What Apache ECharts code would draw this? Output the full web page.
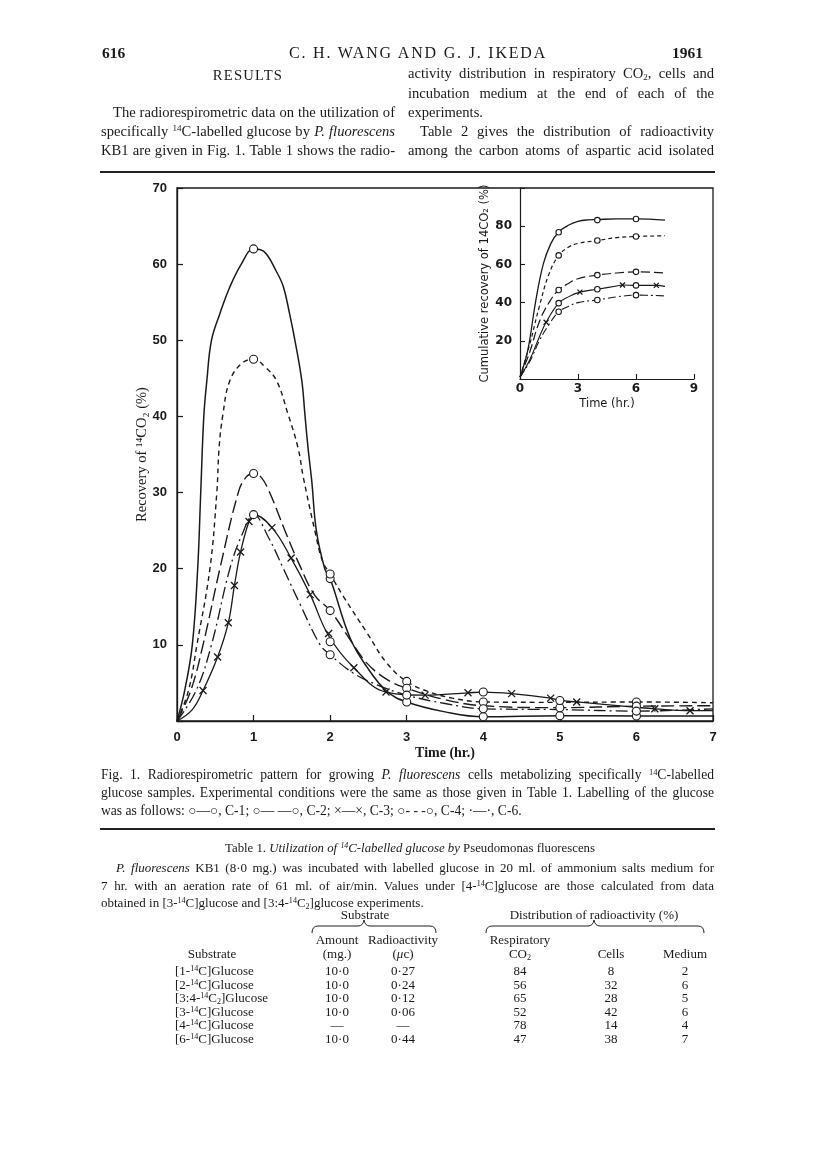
<!DOCTYPE html>
<html>
<head>
<meta charset="utf-8">
<script src="https://cdn.jsdelivr.net/npm/echarts@6/dist/echarts.min.js"></script>
<style>
html, body { margin: 0; padding: 0; background: #fff; }
#page { position: relative; width: 816px; height: 1155px; overflow: hidden; color: #1a1a1a;
  font-family: "Liberation Serif", "DejaVu Serif", serif; }
#chart { position: absolute; left: 0; top: 0; width: 816px; height: 1155px; }
.t { position: absolute; white-space: nowrap; font-size: 14.6px; line-height: 14px; }
.j { text-align: justify; text-align-last: justify; white-space: normal; }
.c { text-align: center; }
.sup { font-size: 0.62em; vertical-align: 0.5em; line-height: 0; }
.sub { font-size: 0.62em; vertical-align: -0.25em; line-height: 0; }
.rule { position: absolute; left: 100px; width: 615px; background: #222; }
.cap { font-size: 13.6px; }
.tb { font-size: 13px; }
</style>
</head>
<body>
<div id="page">
  <div id="chart"></div>

  <!-- running head -->
  <div class="t" style="left:102px;top:46px;font-size:15.5px;font-weight:bold;">616</div>
  <div class="t c" style="left:218px;top:46px;width:400px;font-size:16px;letter-spacing:1.8px;">C. H. WANG AND G. J. IKEDA</div>
  <div class="t" style="left:672px;top:46px;font-size:15.5px;font-weight:bold;">1961</div>

  <!-- left column -->
  <div class="t c" style="left:101px;top:68px;width:294px;letter-spacing:1.2px;">RESULTS</div>
  <div class="t j" style="left:113px;top:105px;width:282px;">The radiorespirometric data on the utilization of</div>
  <div class="t j" style="left:101px;top:124px;width:294px;">specifically <span class="sup">14</span>C-labelled glucose by <i>P. fluorescens</i></div>
  <div class="t j" style="left:101px;top:143px;width:294px;">KB1 are given in Fig. 1. Table 1 shows the radio-</div>

  <!-- right column -->
  <div class="t j" style="left:408px;top:66px;width:306px;">activity distribution in respiratory CO<span class="sub">2</span>, cells and</div>
  <div class="t j" style="left:408px;top:86px;width:306px;">incubation medium at the end of each of the</div>
  <div class="t" style="left:408px;top:105px;">experiments.</div>
  <div class="t j" style="left:420px;top:124px;width:294px;">Table 2 gives the distribution of radioactivity</div>
  <div class="t j" style="left:408px;top:143px;width:306px;">among the carbon atoms of aspartic acid isolated</div>

  <div class="rule" style="top:171px;height:2px;"></div>

  <!-- caption -->
  <div class="t j cap" style="left:101px;top:768px;width:613px;">Fig. 1. Radiorespirometric pattern for growing <i>P. fluorescens</i> cells metabolizing specifically <span class="sup">14</span>C-labelled</div>
  <div class="t j cap" style="left:101px;top:786px;width:613px;">glucose samples. Experimental conditions were the same as those given in Table 1. Labelling of the glucose</div>
  <div class="t cap" style="left:101px;top:804px;">was as follows: ○—○, C-1; ○— —○, C-2; ×—×, C-3; ○- - -○, C-4; ·—·, C-6.</div>

  <div class="rule" style="top:828px;height:1.5px;"></div>

  <!-- table 1 -->
  <div class="t c" style="left:160px;top:841px;width:500px;font-size:12.8px;">Table 1. <i>Utilization of <span class="sup">14</span>C-labelled glucose by</i> Pseudomonas fluorescens</div>
  <div class="t j tb" style="left:116px;top:861px;width:598px;"><i>P. fluorescens</i> KB1 (8·0 mg.) was incubated with labelled glucose in 20 ml. of ammonium salts medium for</div>
  <div class="t j tb" style="left:101px;top:879px;width:613px;">7 hr. with an aeration rate of 61 ml. of air/min. Values under [4-<span class="sup">14</span>C]glucose are those calculated from data</div>
  <div class="t tb" style="left:101px;top:896px;">obtained in [3-<span class="sup">14</span>C]glucose and [3:4-<span class="sup">14</span>C<span class="sub">2</span>]glucose experiments.</div>

  <div class="t c tb" style="left:305px;top:908px;width:120px;">Substrate</div>
  <div class="t c tb" style="left:494px;top:908px;width:200px;">Distribution of radioactivity (%)</div>
  <svg style="position:absolute;left:0;top:0;" width="816" height="1155">
    <path d="M312,933 Q312,926 318,926 L358,926 Q363,926 364,920 Q365,926 370,926 L430,926 Q436,926 436,933" fill="none" stroke="#222" stroke-width="1"/>
    <path d="M486,933 Q486,926 492,926 L588,926 Q593,926 594,920 Q595,926 600,926 L698,926 Q704,926 704,933" fill="none" stroke="#222" stroke-width="1"/>
  </svg>
  <div class="t c tb" style="left:297px;top:933px;width:80px;">Amount</div>
  <div class="t c tb" style="left:358px;top:933px;width:90px;">Radioactivity</div>
  <div class="t c tb" style="left:475px;top:933px;width:90px;">Respiratory</div>
  <div class="t c tb" style="left:297px;top:947px;width:80px;">(mg.)</div>
  <div class="t c tb" style="left:358px;top:947px;width:90px;">(<i>μ</i>c)</div>
  <div class="t c tb" style="left:475px;top:947px;width:90px;">CO<span class="sub">2</span></div>
  <div class="t c tb" style="left:167px;top:947px;width:90px;">Substrate</div>
  <div class="t c tb" style="left:581px;top:947px;width:60px;">Cells</div>
  <div class="t c tb" style="left:650px;top:947px;width:70px;">Medium</div>
  <div id="rows"></div>
</div>

<script>
// ---- main panel: recovery of 14CO2 (%) vs time (hr.) ----
const c1Curve = [[0,0],[0.1,4],[0.2,10],[0.27,20],[0.31,30],[0.35,40],[0.39,44.7],[0.45,50],[0.56,53.5],[0.69,57],[0.84,60],[1,62],[1.13,61.7],[1.3,59],[1.39,57],[1.47,53.5],[1.54,50],[1.63,44.7],[1.67,40.3],[1.71,36],[1.76,31.5],[1.82,25],[1.93,20],[2,18.7],[2.26,10.9],[2.48,7.1],[2.74,3.9],[3,2.5],[3.5,1.2],[4,0.55],[5,0.7],[6,0.65],[7,0.65]];
const c1Marks = [[1,62],[2,18.7],[3,2.5],[4,0.55],[5,0.7],[6,0.65]];

const c4Curve = [[0,0],[0.15,4],[0.26,10],[0.43,20],[0.52,30],[0.55,35.9],[0.6,40.3],[0.69,44.7],[0.85,47],[1,47.5],[1.15,46.5],[1.3,44.7],[1.45,40.3],[1.58,35.9],[1.65,32],[1.8,25],[1.9,21],[2,19.3],[2.17,16.4],[2.48,11.6],[2.74,7.6],[3,5.2],[3.3,3.8],[3.6,3],[4,2.5],[5,2.45],[6,2.5],[7,2.4]];
const c4Marks = [[1,47.5],[2,19.3],[3,5.2],[4,2.5],[6,2.5]];

const c2Curve = [[0,0],[0.18,4],[0.34,10],[0.56,20],[0.8,30],[0.9,32],[1,32.5],[1.1,32],[1.21,30],[1.41,25],[1.6,20.5],[1.8,16.5],[2,14.5],[2.26,10.7],[2.48,7.6],[2.75,5.4],[3,4.3],[3.5,2.8],[4,2],[5,1.75],[6,1.95],[7,2]];
const c2Marks = [[1,32.5],[2,14.5],[3,4.3],[5,1.75],[6,1.95]];

const c3Curve = [[0,0],[0.2,1.5],[0.34,4],[0.53,8.4],[0.67,12.9],[0.75,17.8],[0.83,22.2],[0.94,26.2],[1,27.1],[1.24,25.4],[1.49,21.4],[1.74,16.6],[1.98,11.2],[2.31,7],[2.73,3.8],[3.24,3.4],[3.8,3.7],[4,3.8],[4.37,3.6],[4.88,3],[5,2.7],[5.22,2.5],[6,1.8],[6.24,1.6],[6.7,1.35],[7,1.35]];
const c3Cross = [[0.34,4],[0.53,8.4],[0.67,12.9],[0.75,17.8],[0.83,22.2],[0.94,26.2],[1.24,25.4],[1.49,21.4],[1.74,16.6],[1.98,11.5],[2.31,7],[2.73,3.8],[3.24,3.4],[3.8,3.7],[4.37,3.6],[4.88,3],[5.22,2.5],[6.24,1.6],[6.7,1.35]];
const c3Marks = [[2,10.4],[4,3.8],[5,2.7]];

const c6Curve = [[0,0],[0.25,4],[0.45,10],[0.69,20],[0.85,24.5],[1,27.1],[1.2,24],[1.39,20],[1.6,15.5],[1.87,10],[2,8.7],[2.3,6.3],[2.6,4.8],[3,3.4],[3.5,2.3],[4,1.6],[5,1.5],[6,1.3],[7,1.6]];
const c6Marks = [[1,27.1],[2,8.7],[3,3.4],[4,1.6],[6,1.3]];

// ---- inset: cumulative recovery of 14CO2 (%) ----
const cumC1 = [[0,1],[0.4,15],[0.8,40],[1.2,60],[1.6,71],[2,77],[2.5,80.5],[3,82.5],[3.5,83.3],[4,83.5],[5,83.8],[6,83.8],[7.5,83.2]];
const cumC1Marks = [[2,76.8],[4,83.2],[6,83.8]];
const cumC4 = [[0,1],[0.5,18],[1,38],[1.5,55],[2,64.7],[2.5,69],[3,71],[4,72.5],[5,74],[6,74.6],[7.5,75]];
const cumC4Marks = [[2,64.7],[4,72.5],[6,74.6]];
const cumC2 = [[0,1],[0.5,14],[1,30],[1.5,40],[2,46.6],[2.5,50],[3,52.5],[4,54.4],[5,55.5],[6,56.1],[7.5,55.5]];
const cumC2Marks = [[2,46.6],[4,54.4],[6,56.1]];
const cumC3 = [[0,1],[0.5,10],[1,22],[1.35,29.7],[2,39.7],[2.5,43],[3.1,45.5],[4,47],[5,48.7],[5.3,49.2],[6,49],[7.05,49],[7.5,48.5]];
const cumC3Marks = [[2,39.7],[4,47],[6,49]];
const cumC3Cross = [[1.35,29.7],[3.1,45.5],[5.3,49.2],[7.05,49]];
const cumC6 = [[0,1],[0.5,9],[1,20],[1.5,28.5],[2,35.2],[2.5,38],[3,40],[4,41.4],[5,43],[6,43.9],[7.5,43.5]];
const cumC6Marks = [[2,35.2],[4,41.4],[6,43.9]];

// ---- table 1 ----
const substrates = ["[1-<span class='sup'>14</span>C]Glucose", "[2-<span class='sup'>14</span>C]Glucose", "[3:4-<span class='sup'>14</span>C<span class='sub'>2</span>]Glucose", "[3-<span class='sup'>14</span>C]Glucose", "[4-<span class='sup'>14</span>C]Glucose", "[6-<span class='sup'>14</span>C]Glucose"];
const amounts = ["10·0", "10·0", "10·0", "10·0", "—", "10·0"];
const radioact = ["0·27", "0·24", "0·12", "0·06", "—", "0·44"];
const respCO2 = [84, 56, 65, 52, 78, 47];
const cells = [8, 32, 28, 42, 14, 38];
const medium = [2, 6, 5, 6, 4, 7];

const rowsEl = document.getElementById("rows");
const colCentres = [337, 403, 520, 611, 685];
substrates.forEach((s, i) => {
  const top = 964 + i * 13.6;
  let html = `<div class="t tb" style="left:175px;top:${top}px;">${s}</div>`;
  [amounts[i], radioact[i], respCO2[i], cells[i], medium[i]].forEach((v, k) => {
    html += `<div class="t c tb" style="left:${colCentres[k] - 30}px;top:${top}px;width:60px;">${v}</div>`;
  });
  rowsEl.insertAdjacentHTML("beforeend", html);
});

const INK = "#1a1a1a";
const crossPath = "path://M0,0L10,10M10,0L0,10";

function curve(name, data, dash, grid, width) {
  return {
    name, type: "line", data, xAxisIndex: grid, yAxisIndex: grid,
    smooth: 0.4, showSymbol: false, silent: true, z: 2,
    lineStyle: { color: INK, width: width, type: dash },
  };
}
function circles(data, grid, size) {
  return {
    type: "scatter", data, xAxisIndex: grid, yAxisIndex: grid, symbol: "circle", symbolSize: size,
    silent: true, z: 4,
    itemStyle: { color: "#fff", borderColor: INK, borderWidth: 1.1, opacity: 1 },
  };
}
function crosses(data, grid, size) {
  return {
    type: "scatter", data, xAxisIndex: grid, yAxisIndex: grid, symbol: crossPath, symbolSize: size,
    silent: true, z: 4,
    itemStyle: { color: "none", borderColor: INK, borderWidth: 1.3, opacity: 1 },
  };
}

const chart = echarts.init(document.getElementById("chart"));

const option = {
  backgroundColor: "transparent",
  animation: false,
  grid: [
    { left: 177, top: 188, width: 536, height: 533, show: true, borderColor: INK, borderWidth: 1.3 },
    { left: 520, top: 188, width: 174, height: 191 },
  ],
  xAxis: [
    {
      gridIndex: 0, type: "value", min: 0, max: 7, interval: 1,
      axisLine: { lineStyle: { color: INK, width: 1.3 } },
      axisTick: { inside: true, length: 6, lineStyle: { color: INK, width: 1.2 } },
      splitLine: { show: false },
      axisLabel: { color: INK, fontFamily: "Liberation Sans", fontWeight: "bold", fontSize: 13, margin: 10 },
      name: "Time (hr.)", nameLocation: "middle", nameGap: 25,
      nameTextStyle: { color: INK, fontFamily: "Liberation Serif", fontWeight: "bold", fontSize: 14 },
    },
    {
      gridIndex: 1, type: "value", min: 0, max: 9, interval: 3,
      axisLine: { lineStyle: { color: INK, width: 1.2 } },
      axisTick: { inside: true, length: 5, lineStyle: { color: INK, width: 1.1 } },
      splitLine: { show: false },
      axisLabel: { color: INK, fontFamily: "DejaVu Sans", fontWeight: "bold", fontSize: 12, margin: 4 },
      name: "Time (hr.)", nameLocation: "middle", nameGap: 19, nameMoveOverlap: false,
      nameTextStyle: { color: INK, fontFamily: "DejaVu Sans", fontSize: 11.5 },
    },
  ],
  yAxis: [
    {
      gridIndex: 0, type: "value", min: 0, max: 70, interval: 10,
      axisLine: { lineStyle: { color: INK, width: 1.3 } },
      axisTick: { inside: true, length: 6, lineStyle: { color: INK, width: 1.2 } },
      splitLine: { show: false },
      axisLabel: {
        color: INK, fontFamily: "Liberation Sans", fontWeight: "bold", fontSize: 13, margin: 10,
        formatter: (v) => (v === 0 ? "" : String(v)),
      },
      name: "Recovery of ¹⁴CO₂ (%)", nameLocation: "middle", nameGap: 27, nameRotate: 90,
      nameMoveOverlap: false,
      nameTextStyle: { color: INK, fontFamily: "Liberation Serif", fontSize: 14.5 },
    },
    {
      gridIndex: 1, type: "value", min: 0, max: 100, interval: 20,
      axisLine: { lineStyle: { color: INK, width: 1.2 } },
      axisTick: { inside: true, length: 5, lineStyle: { color: INK, width: 1.1 } },
      splitLine: { show: false },
      axisLabel: {
        color: INK, fontFamily: "DejaVu Sans", fontWeight: "bold", fontSize: 12, margin: 8,
        formatter: (v) => (v === 0 || v === 100 ? "" : String(v)),
      },
      name: "Cumulative recovery of 14CO₂ (%)", nameLocation: "middle", nameGap: 28, nameRotate: 90,
      nameTextStyle: { color: INK, fontFamily: "DejaVu Sans", fontSize: 11.5 },
    },
  ],
  series: [
    curve("C-1", c1Curve, "solid", 0, 1.5),
    curve("C-4", c4Curve, [5, 4], 0, 1.4),
    curve("C-2", c2Curve, [13, 5], 0, 1.4),
    curve("C-3", c3Curve, "solid", 0, 1.3),
    curve("C-6", c6Curve, [12, 4, 2, 4], 0, 1.3),
    circles(c1Marks, 0, 8), circles(c4Marks, 0, 8), circles(c2Marks, 0, 8),
    circles(c3Marks, 0, 8), circles(c6Marks, 0, 8),
    crosses(c3Cross, 0, 7),

    curve("C-1 cum", cumC1, "solid", 1, 1.3),
    curve("C-4 cum", cumC4, [4, 3], 1, 1.2),
    curve("C-2 cum", cumC2, [9, 4], 1, 1.2),
    curve("C-3 cum", cumC3, "solid", 1, 1.1),
    curve("C-6 cum", cumC6, [8, 3, 2, 3], 1, 1.1),
    circles(cumC1Marks, 1, 5.5), circles(cumC4Marks, 1, 5.5), circles(cumC2Marks, 1, 5.5),
    circles(cumC3Marks, 1, 5.5), circles(cumC6Marks, 1, 5.5),
    crosses(cumC3Cross, 1, 5),
  ],
};

chart.setOption(option);
window.addEventListener("resize", () => chart.resize());
</script>
</body>
</html>
